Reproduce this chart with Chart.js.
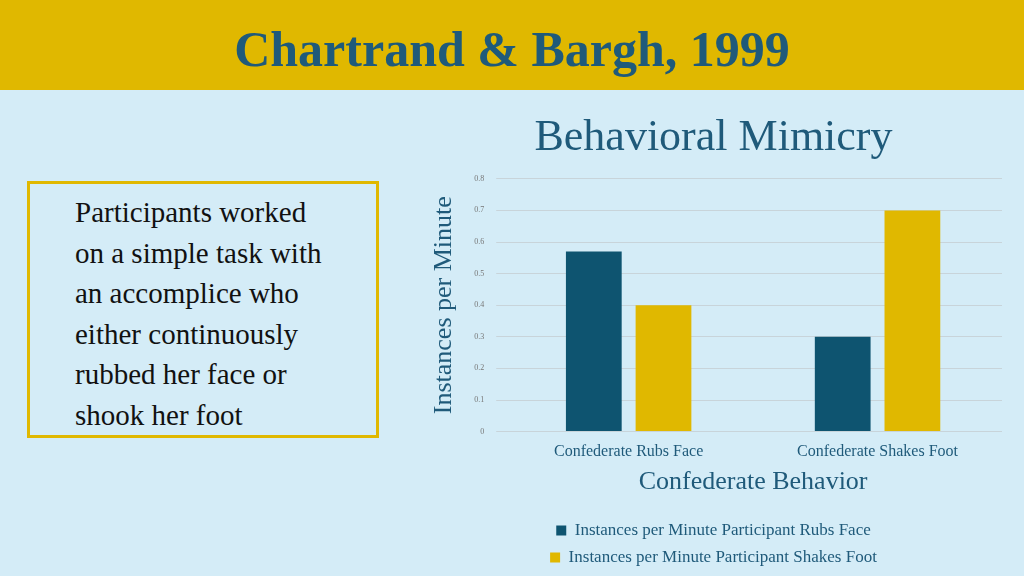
<!DOCTYPE html>
<html><head><meta charset="utf-8">
<script src="https://cdn.jsdelivr.net/npm/chart.js@4"></script>
<style>
body{margin:0;width:1024px;height:576px;background:#D4ECF7;position:relative;overflow:hidden;font-family:"Liberation Serif",serif;}
#banner{position:absolute;left:0;top:0;width:1024px;height:90px;background:#E0B800;}
#banner h1{margin:0;text-align:center;line-height:98px;font-size:50px;color:#1F5A7A;font-weight:bold;font-family:"Liberation Serif",serif;}
#box{position:absolute;left:27px;top:181px;width:346px;height:251px;border:3px solid #E0B800;box-sizing:content-box;}
#box p{margin:0;padding:8px 0 0 45px;font-size:29px;line-height:40.5px;color:#111;}
#wrap{position:absolute;left:425px;top:108px;width:599px;height:468px;}
</style></head><body>
<div id="banner"><h1>Chartrand &amp; Bargh, 1999</h1></div>
<div id="box"><p>Participants worked<br>on a simple task with<br>an accomplice who<br>either continuously<br>rubbed her face or<br>shook her foot</p></div>
<div id="wrap"><canvas id="c"></canvas></div>
<script>
const categories=["Confederate Rubs Face","Confederate Shakes Foot"];
const rubsFace=[0.57,0.3];
const shakesFoot=[0.4,0.7];
const seriesNames=["Instances per Minute Participant Rubs Face","Instances per Minute Participant Shakes Foot"];
const font="'Liberation Serif', serif";
new Chart(document.getElementById('c'),{
type:'bar',
data:{labels:categories,datasets:[
{label:seriesNames[0],data:rubsFace,backgroundColor:'#0E5470'},
{label:seriesNames[1],data:shakesFoot,backgroundColor:'#E0B800'}]},
options:{responsive:true,maintainAspectRatio:false,animation:false,
layout:{padding:{left:0,right:22,top:0,bottom:0}},
datasets:{bar:{categoryPercentage:0.56,barPercentage:0.8}},
plugins:{
title:{display:true,text:'Behavioral Mimicry',color:'#1F5A7A',font:{family:font,size:44,weight:'normal'},padding:{top:4,bottom:14}},
legend:{position:'bottom',labels:{color:'#1F5A7A',font:{family:font,size:17},boxWidth:10,boxHeight:10,padding:10}},
tooltip:{enabled:false}},
scales:{
x:{grid:{display:false},border:{display:false},ticks:{color:'#1F5A7A',font:{family:font,size:16}},
title:{display:true,text:'Confederate Behavior',color:'#1F5A7A',font:{family:font,size:26},padding:{top:2,bottom:14}}},
y:{min:0,max:0.8,ticks:{stepSize:0.1,color:'#777',font:{family:font,size:8},padding:12},
grid:{color:'#C8D4DA'},border:{display:false},
title:{display:true,text:'Instances per Minute',color:'#1F5A7A',font:{family:font,size:26},padding:{bottom:2}}}}}
});
</script></body></html>
